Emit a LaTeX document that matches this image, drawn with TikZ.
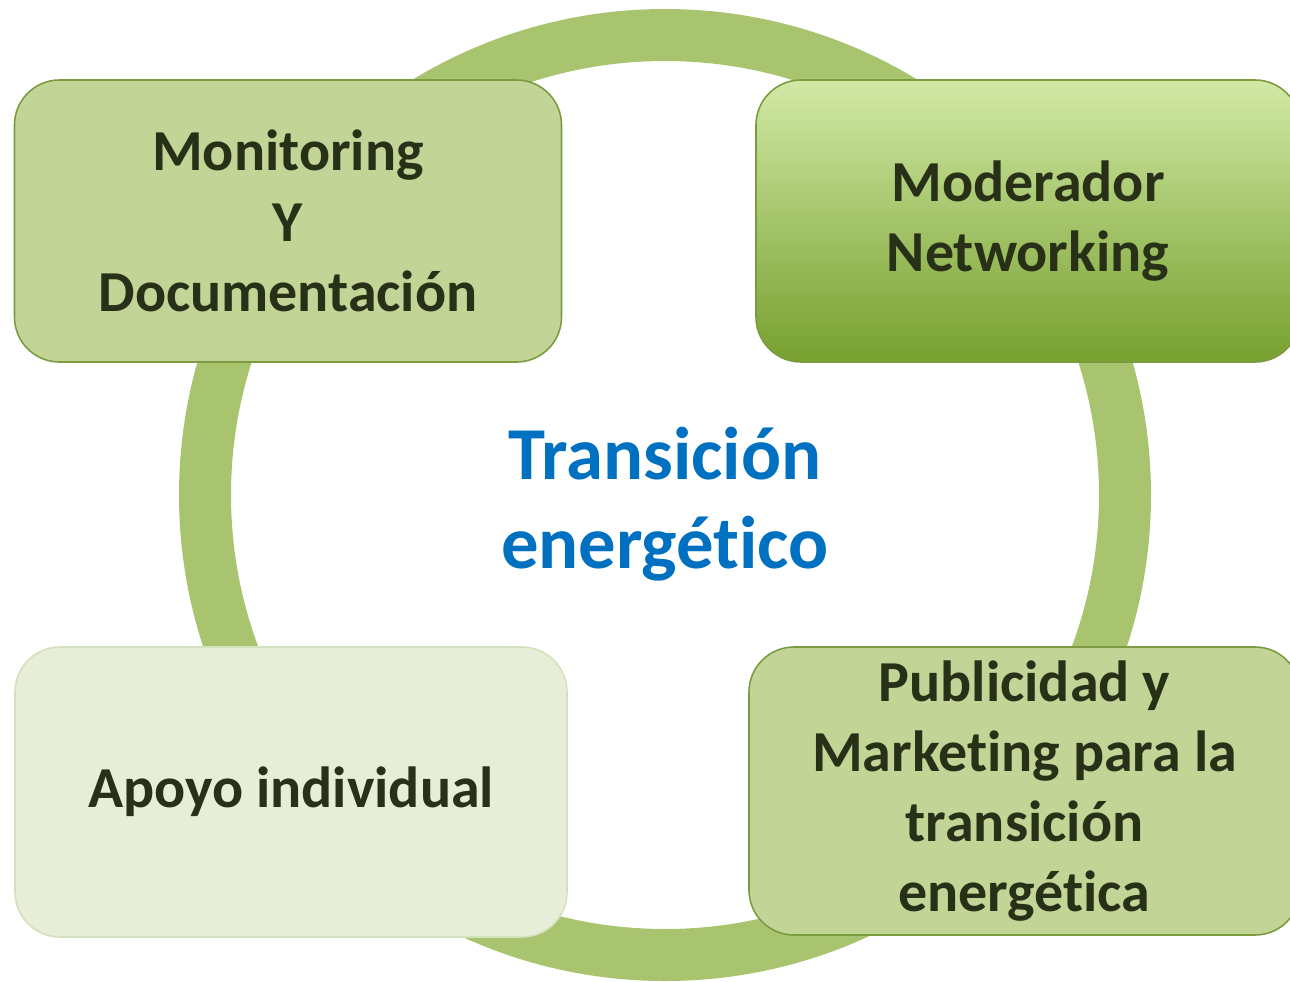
\documentclass[tikz,border=0pt]{standalone}
\usepackage{fontspec}
\setmainfont[Ligatures=NoCommon]{Carlito}
\definecolor{ring}{HTML}{A9C46E}
\definecolor{boxfill}{HTML}{C2D597}
\definecolor{boxline}{HTML}{7C9B40}
\definecolor{gradtop}{HTML}{D2E9A6}
\definecolor{gradbottom}{HTML}{77A02F}
\definecolor{palefill}{HTML}{E6EED7}
\definecolor{paleline}{HTML}{D3E2BC}
\definecolor{boxtext}{HTML}{283117}
\definecolor{titleblue}{HTML}{0070C0}

\begin{document}
\begin{tikzpicture}[rounded corners=0.9cm,
  task/.style={draw=boxline,line width=0.9pt,fill=boxfill,minimum width=10.94cm,minimum height=5.64cm,
    align=center,text=boxtext,font=\bfseries\fontsize{33}{40}\selectfont,inner sep=0pt}]
\useasboundingbox (0,0) rectangle (25.8,-19.62);
\node (ring) at (13.3,-9.9) [circle,draw=ring,line width=1.04cm,minimum size=18.4cm] {};
\node (monitor) at (5.76,-4.42) [task] {Monitoring\\Y\\Documentación};
\node (moderator) at (20.56,-4.42) [task,minimum width=10.88cm,top color=gradtop,bottom color=gradbottom] {Moderador\\Networking};
\node (support) at (5.82,-15.84) [task,draw=paleline,fill=palefill,minimum width=11.04cm,minimum height=5.8cm] {Apoyo individual};
\node (marketing) at (20.49,-15.82) [task,minimum width=11.02cm,minimum height=5.76cm] {Publicidad y\\Marketing para la\\transición\\energética};
\node (topic) at (13.3,-10.08) [align=center,text=titleblue,font=\bfseries\fontsize{42.5}{51}\selectfont] {Transición\\energético};
\end{tikzpicture}
\end{document}
